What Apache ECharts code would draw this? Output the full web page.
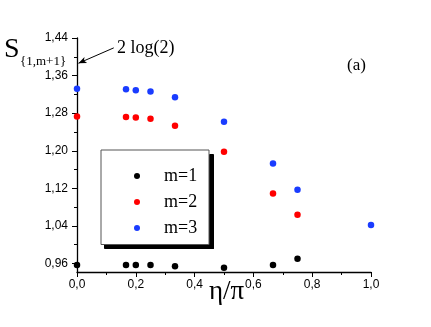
<!DOCTYPE html>
<html>
<head>
<meta charset="utf-8">
<script src="https://cdn.jsdelivr.net/npm/echarts@6/dist/echarts.min.js"></script>
<style>
    html, body { margin: 0; padding: 0; background: #fff; }
    #chart { width: 431px; height: 327px; }
</style>
</head>
<body>
<div id="chart"></div>
<script>
(function () {

    // η/π positions
    var etaOverPi = [0, 1 / 6, 1 / 5, 1 / 4, 1 / 3, 1 / 2, 2 / 3, 3 / 4, 1];

    // S_{1,m+1} values
    var m1 = [0.957, 0.957, 0.957, 0.957, 0.954, 0.951, 0.957, 0.970, null];
    var m2 = [1.273, 1.272, 1.271, 1.268, 1.253, 1.198, 1.109, 1.064, null];
    var m3 = [1.332, 1.331, 1.329, 1.326, 1.314, 1.262, 1.173, 1.117, 1.042];

    var seriesNames = ['m=1', 'm=2', 'm=3'];
    var seriesColors = ['#000000', '#ff0000', '#1a3cff'];

    var yMajorTicks = [0.96, 1.04, 1.12, 1.20, 1.28, 1.36, 1.44];
    var yMinorTicks = [1.00, 1.08, 1.16, 1.24, 1.32, 1.40];

    var twoLog2 = 2 * Math.log(2);

    var serif = 'Liberation Serif';
    var sans = 'Liberation Sans';

    function toPairs(values) {
        var out = [];
        values.forEach((v, i) => {
            if (v != null) {
                out.push([etaOverPi[i], v]);
            }
        });
        return out;
    }

    function comma(v, digits) {
        return v.toFixed(digits).replace('.', ',');
    }

    var yRange = { min: 0.942, max: 1.44 };

    var series = [m1, m2, m3].map((values, i) => ({
        name: seriesNames[i],
        type: 'scatter',
        symbol: 'circle',
        symbolSize: 6.5,
        itemStyle: { color: seriesColors[i], opacity: 1 },
        data: toPairs(values)
    }));

    // arrow pointing at 2 log(2) on the y axis
    series[0].markLine = {
        silent: true,
        symbol: ['none', 'arrow'],
        symbolSize: [5, 8],
        label: { show: false },
        lineStyle: { color: '#000', width: 1, type: 'solid', opacity: 1 },
        data: [[{ coord: [0.125, 1.419] }, { coord: [0.005, twoLog2] }]]
    };

    var option = {
        animation: false,
        grid: {
            left: 77,
            right: 60,
            top: 38,
            bottom: 55
        },
        legend: {
            orient: 'vertical',
            left: 129,
            top: 162,
            itemWidth: 6,
            itemHeight: 6,
            itemGap: 8,
            icon: 'circle',
            data: seriesNames,
            textStyle: {
                fontFamily: serif,
                fontSize: 18,
                lineHeight: 18,
                color: '#000',
                padding: [0, 0, 0, 19]
            }
        },
        xAxis: {
            type: 'value',
            min: 0,
            max: 1,
            interval: 0.2,
            splitLine: { show: false },
            axisLine: { onZero: false, lineStyle: { color: '#000', width: 1.3 } },
            axisTick: { length: 5, lineStyle: { color: '#000' } },
            minorTick: { show: true, splitNumber: 2, length: 3, lineStyle: { color: '#000' } },
            axisLabel: {
                fontFamily: sans,
                fontSize: 12,
                color: '#000',
                margin: 7,
                formatter: v => comma(v, 1)
            }
        },
        yAxis: [{
            type: 'value',
            min: yRange.min,
            max: yRange.max,
            splitLine: { show: false },
            axisLine: { onZero: false, lineStyle: { color: '#000', width: 1.3 } },
            axisTick: { length: 5, customValues: yMajorTicks, lineStyle: { color: '#000' } },
            axisLabel: {
                fontFamily: sans,
                fontSize: 12,
                color: '#000',
                margin: 9,
                customValues: yMajorTicks,
                formatter: v => comma(v, 2)
            }
        }, {
            // minor ticks only
            type: 'value',
            position: 'left',
            min: yRange.min,
            max: yRange.max,
            splitLine: { show: false },
            axisLine: { show: false },
            axisTick: { length: 3, customValues: yMinorTicks, lineStyle: { color: '#000' } },
            axisLabel: { show: false, customValues: yMinorTicks }
        }],
        graphic: {
            elements: [
                // legend frame with hard shadow on right and bottom
                {
                    type: 'rect',
                    id: 'shadowRight',
                    left: 209,
                    top: 154,
                    z: 1,
                    shape: { width: 4, height: 94 },
                    style: { fill: '#000', stroke: '#000' }
                },
                {
                    type: 'rect',
                    id: 'shadowBottom',
                    left: 104,
                    top: 244.5,
                    z: 1,
                    shape: { width: 109, height: 3.5 },
                    style: { fill: '#000', stroke: '#000' }
                },
                {
                    type: 'rect',
                    id: 'frame',
                    left: 100.5,
                    top: 149.5,
                    z: 1,
                    shape: { width: 108, height: 94.5 },
                    style: { fill: '#fff', stroke: '#555', lineWidth: 1 }
                },
                {
                    type: 'text',
                    left: 4,
                    top: 36,
                    style: { text: 'S', font: '28px ' + serif, fill: '#000' }
                },
                {
                    type: 'text',
                    left: 20,
                    top: 55,
                    style: { text: '{1,m+1}', font: '13px ' + serif, fill: '#000' }
                },
                {
                    type: 'text',
                    left: 117,
                    top: 39,
                    style: { text: '2 log(2)', font: '18px ' + serif, fill: '#000' }
                },
                {
                    type: 'text',
                    left: 347,
                    top: 57,
                    style: { text: '(a)', font: '17px ' + serif, fill: '#000' }
                },
                {
                    type: 'text',
                    left: 209,
                    top: 278,
                    style: { text: 'η/π', font: '27px ' + serif, fill: '#000' }
                }
            ]
        },
        series: series
    };

    var chart = echarts.init(document.getElementById('chart'), null, { renderer: 'canvas' });
    chart.setOption(option);

})();
</script>
</body>
</html>
